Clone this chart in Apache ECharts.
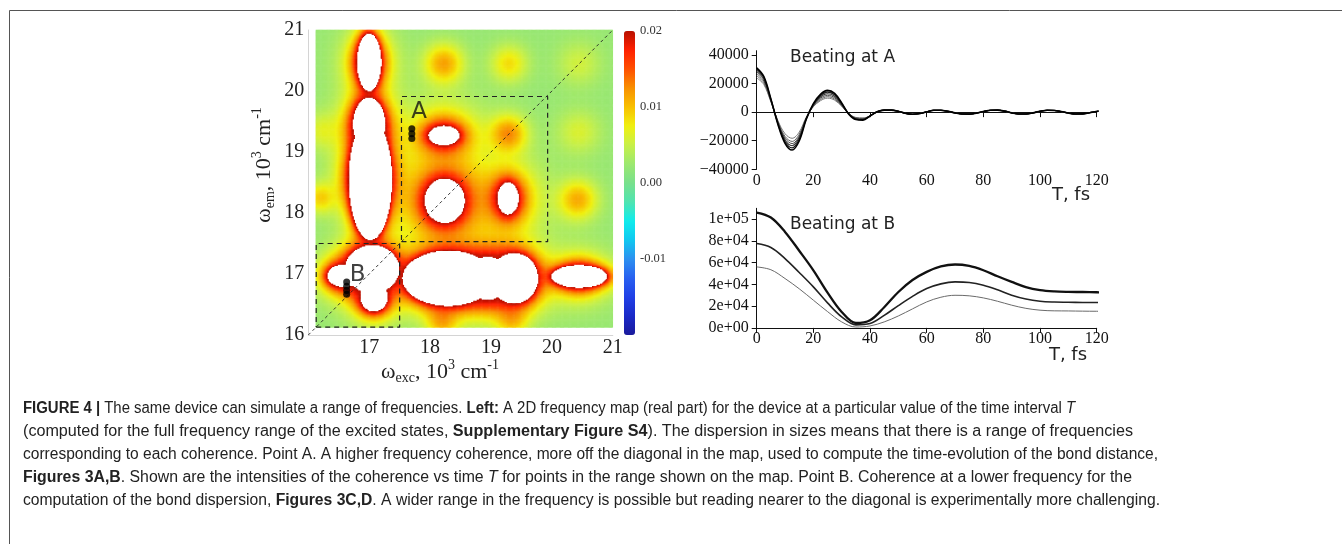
<!DOCTYPE html>
<html lang="en">
<head>
<meta charset="UTF-8">
<script src="https://cdn.jsdelivr.net/npm/echarts@6.0.0/dist/echarts.min.js"></script>
<title>2D frequency map and beating</title>
<style>html, body { margin: 0; padding: 0; background: #fff; }</style>
</head>
<body>
<div id="chart" style="width: 1342px; height: 544px;"></div>
<script type="text/javascript">
  // ---- 2D map: white cores (centre, half sizes, halo width) ----
  const blobX    = [17.00, 17.00, 17.02, 18.23, 18.24, 19.28, 18.30, 18.95, 19.38, 20.45, 17.05, 16.58, 17.08];
  const blobY    = [20.47, 19.45, 18.55, 19.27, 18.20, 18.24, 16.93, 16.93, 16.93, 16.96, 17.08, 16.97, 16.62];
  const blobRx   = [0.205, 0.27, 0.36, 0.26, 0.335, 0.18, 0.76, 0.35, 0.40, 0.465, 0.45, 0.27, 0.23];
  const blobRy   = [0.48, 0.45, 1.00, 0.165, 0.37, 0.27, 0.46, 0.36, 0.42, 0.19, 0.40, 0.19, 0.24];
  const blobHalo = [0.15, 0.15, 0.15, 0.22, 0.28, 0.22, 0.16, 0.16, 0.16, 0.15, 0.13, 0.13, 0.13];
  // weaker (coloured, not white) peaks
  const peakX = [18.23, 19.30, 20.45, 19.29, 20.45, 20.43, 16.20, 16.22, 18.20, 19.35];
  const peakY = [20.45, 20.45, 20.45, 19.30, 19.33, 18.22, 18.25, 19.35, 16.22, 16.25];
  const peakV = [0.0115, 0.0085, 0.0055, 0.0125, 0.006, 0.011, 0.009, 0.006, 0.010, 0.009];
  const peakR = [0.32, 0.30, 0.35, 0.30, 0.35, 0.32, 0.25, 0.30, 0.25, 0.25];
  const mapFloor = 0.0022;
  const mapTop = 0.02;
  const cellFrom = 16.125, cellStep = 0.01875, cellCount = 260;

  // boxes, diagonal and picked points on the map
  const diagXY = [[16, 16], [21, 21]];
  const boxAX = [17.53, 19.93], boxAY = [17.53, 19.91];
  const boxBX = [16.13, 17.50], boxBY = [16.13, 17.50];
  const markAX = [17.70, 17.70, 17.70], markAY = [19.38, 19.30, 19.22];
  const markBX = [16.63, 16.63, 16.63, 16.63], markBY = [16.87, 16.80, 16.73, 16.67];
  const pointNames = ['A', 'B'], pointNameX = [17.82, 16.81], pointNameY = [19.66, 16.98];

  // colour bar
  const barColors = ['#1a1a9c', '#1a2ac8', '#2040e6', '#2860f0', '#2c90f0', '#10c8f0', '#10ecec', '#50e4b0',
    '#78e08c', '#9ce870', '#c8f048', '#f0f010', '#f8c000', '#f89000', '#ff5000', '#ff2000', '#b81000'];

  // ---- Beating at A ----
  const tA = [0, 2.5, 5, 7.5, 10, 12.5, 15, 17.5, 20, 22.5, 25, 27.5, 30, 32.5, 35, 37.5,
    40, 42.5, 45, 47.5, 50, 52.5, 55, 57.5, 60, 62.5, 65, 67.5, 70, 72.5, 75, 77.5, 80, 82.5, 85, 87.5,
    90, 92.5, 95, 97.5, 100, 102.5, 105, 107.5, 110, 112.5, 115, 117.5, 120, 122.5, 125];
  const headA1 = [31000, 25000, 9300, -8600, -21800, -26500, -20200, -5000, 5900, 12400, 15200, 13100, 6400, -1400, -5200, -5600];
  const headA2 = [30000, 24200, 9000, -8100, -20700, -25000, -19000, -4700, 5400, 11500, 14100, 12100, 5900, -1300, -4900, -5300];
  const headA3 = [28500, 23000, 8600, -7600, -19500, -23500, -17800, -4400, 5000, 10600, 12900, 11100, 5400, -1200, -4600, -5000];
  const headA4 = [27000, 21800, 8100, -7100, -18200, -22000, -16700, -4100, 4600, 9700, 11800, 10100, 4900, -1100, -4300, -4700];
  const headA5 = [25500, 20600, 7600, -6600, -17000, -20500, -15500, -3800, 4200, 8800, 10800, 9200, 4500, -1050, -4000, -4400];
  const headA6 = [24000, 19400, 7200, -6000, -15100, -18300, -14000, -3500, 3800, 8000, 9800, 8400, 4100, -1000, -3700, -4000];
  const tailA = [-2700, 300, 1400, 1400, 600, -800, -1500, -1000, 200, 1300, 1300, 600, -500, -1300, -1400, -700,
    400, 1300, 1400, 700, -500, -1300, -1300, -500, 600, 1300, 1200, 400, -600, -1300, -1200, -400, 500, 1100, 1100];
  const linesA = [headA1, headA2, headA3, headA4, headA5, headA6];
  const colorsA = ['#000', '#1c1c1c', '#333', '#4a4a4a', '#626262', '#7a7a7a'];
  const widthsA = [1.6, 1.3, 1.1, 1, 1, 1];
  const ticksA = [-40000, -20000, 0, 20000, 40000];

  // ---- Beating at B ----
  const tB = [0, 5, 10, 15, 20, 25, 30, 35, 40, 45, 50, 55, 60, 65, 70, 75, 80, 85, 90, 95, 100, 105, 110, 115, 120, 125];
  const bTop = [106000, 101500, 88300, 71000, 53000, 32500, 14700, 4500, 7000, 19000, 33000, 44000, 51500, 56500, 58300, 57000, 53000, 47500, 42300, 37500, 34700, 33500, 33100, 33000, 32800, 32500];
  const bMid = [77600, 74000, 63800, 51000, 37700, 23000, 10100, 2800, 4000, 11500, 20500, 29000, 36200, 40500, 42300, 41800, 39300, 35000, 30000, 26500, 24500, 23800, 23600, 23400, 23300, 23300];
  const bLow = [56100, 53500, 45400, 36000, 25500, 15000, 5500, 800, 1800, 5500, 11000, 17500, 23900, 28200, 30000, 29500, 27600, 24500, 20900, 18000, 16300, 15700, 15600, 15400, 15300, 15300];
  const ticksB = [0, 20000, 40000, 60000, 80000, 100000];

  const captionLines = [
    '{b|FIGURE 4 |}{n| The same device can simulate a range of frequencies. }{b|Left:}{n| A 2D frequency map (real part) for the device at a particular value of the time interval }{i|T}',
    '{n|(computed for the full frequency range of the excited states, }{b|Supplementary Figure S4}{n|). The dispersion in sizes means that there is a range of frequencies}',
    '{n|corresponding to each coherence. Point A. A higher frequency coherence, more off the diagonal in the map, used to compute the time-evolution of the bond distance,}',
    '{b|Figures 3A,B}{n|. Shown are the intensities of the coherence vs time }{i|T}{n| for points in the range shown on the map. Point B. Coherence at a lower frequency for the}',
    '{n|computation of the bond dispersion, }{b|Figures 3C,D}{n|. A wider range in the frequency is possible but reading nearer to the diagonal is experimentally more challenging.}'
  ];
  const capLeft = 23;
  const capY = [409, 432, 455, 478, 501];
  const capEnd = [1075, 1133, 1158, 1132, 1160];

  const SERIF = "'Liberation Serif', 'DejaVu Serif', serif";
  const SANS = "'DejaVu Sans', sans-serif";
  const CAP = "'Liberation Sans', Arial, sans-serif";

  function mapValue(x, y) {
    let keep = 1;
    for (let i = 0; i < blobX.length; i++) {
      const dx = x - blobX[i], dy = y - blobY[i];
      const t = Math.sqrt(dx * dx + dy * dy);
      const d = Math.sqrt((dx / blobRx[i]) ** 2 + (dy / blobRy[i]) ** 2);
      if (d <= 1) return null;               // white core
      const e = t - t / d;                   // distance past the edge
      keep *= 1 - Math.exp(-e / blobHalo[i]);
    }
    for (let i = 0; i < peakX.length; i++) {
      const t = Math.hypot(x - peakX[i], y - peakY[i]);
      const a = (peakV[i] - mapFloor) / (mapTop - mapFloor);
      keep *= 1 - a * Math.exp(-((t / peakR[i]) ** 2));
    }
    return mapFloor + (mapTop - mapFloor) * (1 - keep);
  }

  function buildMap() {
    const centres = [];
    for (let i = 0; i < cellCount; i++) centres.push(+(cellFrom + cellStep * (i + 0.5)).toFixed(5));
    const cells = [];
    for (let i = 0; i < cellCount; i++) {
      for (let j = 0; j < cellCount; j++) {
        const v = mapValue(centres[i], centres[j]);
        if (v !== null) cells.push([i, j, v]);
      }
    }
    return {centres, cells};
  }

  function boxPath(bx, by) {
    return [[bx[0], by[0]], [bx[1], by[0]], [bx[1], by[1]], [bx[0], by[1]], [bx[0], by[0]]];
  }

  function expLabel(v) {
    if (v === 0) return '0e+00';
    const s = v.toExponential(0).split('e');
    const sign = s[1][0], p = s[1].slice(1);
    return s[0] + 'e' + sign + (p.length < 2 ? '0' + p : p);
  }

  function plainAxis(grid, extra) {
    return Object.assign({gridIndex: grid, type: 'value', show: false, splitLine: {show: false}}, extra);
  }

  function main() {
    const map = buildMap();
    const chart = echarts.init(document.getElementById('chart'), null, {renderer: 'canvas'});

    const blackAxis = {lineStyle: {color: '#111', width: 1}};
    const series = [];

    series.push({
      type: 'heatmap', xAxisIndex: 1, yAxisIndex: 1, data: map.cells,
      progressive: 0, silent: true, z: 1, emphasis: {disabled: true}
    });
    series.push({
      type: 'line', xAxisIndex: 0, yAxisIndex: 0, data: diagXY, symbol: 'none', silent: true, z: 4,
      lineStyle: {color: '#222', width: 0.9, type: [3, 3]}
    });
    [[boxAX, boxAY], [boxBX, boxBY]].forEach(function (b) {
      series.push({
        type: 'line', xAxisIndex: 0, yAxisIndex: 0, data: boxPath(b[0], b[1]), symbol: 'none', silent: true, z: 4,
        lineStyle: {color: '#222', width: 1.2, type: [5, 4]}
      });
    });
    series.push({
      type: 'scatter', xAxisIndex: 0, yAxisIndex: 0, symbolSize: 7, silent: true, z: 5,
      itemStyle: {color: '#000'},
      data: markAX.map((x, k) => [x, markAY[k]]).concat(markBX.map((x, k) => [x, markBY[k]]))
    });
    series.push({
      type: 'scatter', xAxisIndex: 0, yAxisIndex: 0, symbolSize: 0, silent: true, z: 5,
      data: pointNames.map((n, k) => ({value: [pointNameX[k], pointNameY[k]], name: n})),
      label: {show: true, position: 'inside', formatter: '{b}', color: '#111', fontFamily: SANS, fontSize: 23}
    });

    linesA.forEach(function (head, k) {
      const vals = head.concat(tailA);
      series.push({
        type: 'line', xAxisIndex: 3, yAxisIndex: 3, symbol: 'none', smooth: 0.35, clip: false, silent: true,
        z: 10 - k, data: tA.map((t, i) => [t, vals[i]]),
        lineStyle: {color: colorsA[k], width: widthsA[k]}
      });
    });
    [[bLow, '#6a6a6a', 1], [bMid, '#222', 1.6], [bTop, '#111', 2.3]].forEach(function (b) {
      series.push({
        type: 'line', xAxisIndex: 4, yAxisIndex: 4, symbol: 'none', smooth: 0.35, clip: false, silent: true,
        data: tB.map((t, i) => [t, b[0][i]]), lineStyle: {color: b[1], width: b[2]}
      });
    });

    const tAxis = function (grid) {
      return {
        gridIndex: grid, type: 'value', min: 0, max: 120, interval: 20,
        axisLine: blackAxis, axisTick: {show: true, length: 5, lineStyle: {color: '#111'}},
        axisLabel: {margin: 3, color: '#111', fontFamily: SERIF, fontSize: 16},
        splitLine: {show: false}
      };
    };

    const textStyle = function (extra) { return Object.assign({fill: '#222'}, extra); };
    const nameRich = {
      w: {fontFamily: SERIF, fontSize: 22, lineHeight: 27, verticalAlign: 'middle', fill: '#222'},
      s: {fontFamily: SERIF, fontSize: 14, lineHeight: 14, verticalAlign: 'bottom', fill: '#222'},
      p: {fontFamily: SERIF, fontSize: 14, lineHeight: 14, verticalAlign: 'top', fill: '#222'}
    };
    const capRich = {
      n: {fontFamily: CAP, fontSize: 16, fill: '#222'},
      b: {fontFamily: CAP, fontSize: 16, fontWeight: 'bold', fill: '#222'},
      i: {fontFamily: CAP, fontSize: 16, fontStyle: 'italic', fill: '#222'}
    };

    const graphics = [
      {type: 'rect', silent: true, shape: {x: 9.5, y: 10.5, width: 1400, height: 600},
        style: {fill: 'none', stroke: '#555', lineWidth: 1}},
      {type: 'text', x: 440, y: 372, silent: true, style: {text: '{w|ω}{s|exc}{w|, 10}{p|3}{w| cm}{p|-1}', rich: nameRich,
        align: 'center', verticalAlign: 'middle', textAlign: 'center', textVerticalAlign: 'middle'}},
      {type: 'text', x: 264, y: 165, rotation: Math.PI / 2, silent: true, style: {text: '{w|ω}{s|em}{w|, 10}{p|3}{w| cm}{p|-1}', rich: nameRich,
        align: 'center', verticalAlign: 'middle', textAlign: 'center', textVerticalAlign: 'middle'}},
      {type: 'text', x: 790, y: 58, silent: true, style: textStyle({text: 'Beating at A', font: '17px ' + SANS, verticalAlign: 'middle', textVerticalAlign: 'middle'})},
      {type: 'text', x: 790, y: 225, silent: true, style: textStyle({text: 'Beating at B', font: '17px ' + SANS, verticalAlign: 'middle', textVerticalAlign: 'middle'})},
      {type: 'text', x: 1071, y: 195, silent: true, style: textStyle({text: 'T, fs', font: '18px ' + SANS, align: 'center', verticalAlign: 'middle', textAlign: 'center', textVerticalAlign: 'middle'})},
      {type: 'text', x: 1068, y: 355, silent: true, style: textStyle({text: 'T, fs', font: '18px ' + SANS, align: 'center', verticalAlign: 'middle', textAlign: 'center', textVerticalAlign: 'middle'})}
    ];
    captionLines.forEach(function (line, k) {
      let sx = 0.97;
      try {
        const probe = new echarts.graphic.Text({style: {text: line, rich: capRich}});
        const w = probe.getBoundingRect().width;
        if (w > 0) sx = (capEnd[k] - capLeft) / w;
      } catch (e) { /* keep default */ }
      graphics.push({type: 'text', x: capLeft, y: capY[k], scaleX: sx, silent: true,
        style: {text: line, rich: capRich, verticalAlign: 'middle', textVerticalAlign: 'middle'}});
    });

    chart.setOption({
      animation: false,
      backgroundColor: '#fff',
      grid: [
        {left: 308.3, top: 30, width: 304.5, height: 305},
        {left: 315.9, top: 30, width: 296.9, height: 297.4},
        {left: 624, top: 31, width: 11, height: 304},
        {left: 756.7, top: 50.7, width: 340, height: 118.6},
        {left: 756.7, top: 208.3, width: 340, height: 119.6}
      ],
      xAxis: [
        {gridIndex: 0, type: 'value', min: 16, max: 21, interval: 1,
          axisLine: {lineStyle: {color: '#d4d4d4'}}, axisTick: {show: false},
          axisLabel: {showMinLabel: false, margin: 3, color: '#222', fontFamily: SERIF, fontSize: 20},
          splitLine: {show: false}},
        {gridIndex: 1, type: 'category', data: map.centres, show: false},
        plainAxis(2, {min: 0, max: 1}),
        tAxis(3),
        tAxis(4)
      ],
      yAxis: [
        {gridIndex: 0, type: 'value', min: 16, max: 21, interval: 1,
          axisLine: {lineStyle: {color: '#d4d4d4'}}, axisTick: {show: false},
          axisLabel: {margin: 4, padding: [6, 0, 0, 0], color: '#222', fontFamily: SERIF, fontSize: 20},
          splitLine: {show: false}},
        {gridIndex: 1, type: 'category', data: map.centres, show: false},
        {gridIndex: 2, type: 'value', min: -0.02, max: 0.02, interval: 0.01, position: 'right',
          axisLine: {show: false}, axisTick: {show: false}, splitLine: {show: false},
          axisLabel: {showMinLabel: false, margin: 5, color: '#333', fontFamily: SERIF, fontSize: 12.5,
            formatter: v => v.toFixed(2)}},
        {gridIndex: 3, type: 'value', min: -40000, max: 43000,
          axisLine: blackAxis,
          axisTick: {show: true, length: 5, customValues: ticksA, lineStyle: {color: '#111'}},
          axisLabel: {customValues: ticksA, margin: 8, color: '#111', fontFamily: SERIF, fontSize: 16,
            formatter: v => String(v).replace('-', '\u2212')},
          splitLine: {show: false}},
        {gridIndex: 4, type: 'value', min: 0, max: 110000,
          axisLine: blackAxis,
          axisTick: {show: true, length: 5, customValues: ticksB, lineStyle: {color: '#111'}},
          axisLabel: {customValues: ticksB, margin: 8, color: '#111', fontFamily: SERIF, fontSize: 16,
            formatter: expLabel},
          splitLine: {show: false}}
      ],
      visualMap: {
        type: 'continuous', seriesIndex: 0, min: -0.02, max: 0.02, calculable: false,
        left: 624, top: 31, itemWidth: 11, itemHeight: 304, padding: 0, text: null,
        hoverLink: false, inRange: {color: barColors}
      },
      graphic: graphics,
      series: series
    });
  }

  main();
</script>
</body>
</html>
